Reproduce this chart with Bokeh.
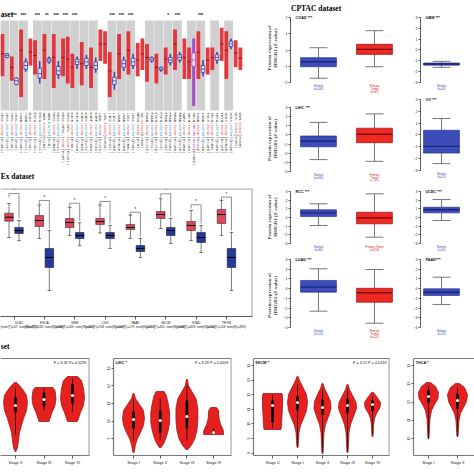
import math
from bokeh.plotting import figure
from bokeh.models import Range1d, FixedTicker, Span
from bokeh.layouts import row, column
from bokeh.embed import file_html
from bokeh.resources import INLINE
from bokeh.core.properties import value

SERIF = "Liberation Serif"
SANS = "Liberation Sans"
MONO = "Liberation Mono"

# ---------------- TIMER data ----------------
timer_names = ["CESC", "CESC", "CHOL", "CHOL", "COAD", "COAD", "DLBC", "ESCA", "ESCA", "GBM", "GBM",
               "HNSC", "HNSC", "HNSC-HPV+", "HNSC-HPV-", "KICH", "KICH", "KIRC", "KIRC", "KIRP", "KIRP",
               "LAML", "LGG", "LIHC", "LIHC", "LUAD", "LUAD", "LUSC", "LUSC", "MESO", "OV", "PAAD", "PAAD",
               "PCPG", "PCPG", "PRAD", "PRAD", "READ", "READ", "SARC", "SKCM", "SKCM", "STAD", "STAD",
               "TGCT", "THCA", "THCA", "THYM", "UCEC", "UCEC", "UCS", "UVM"]
timer_types = ["Tumor", "Normal", "Tumor", "Normal", "Tumor", "Normal", "Tumor", "Tumor", "Normal", "Tumor", "Normal",
               "Tumor", "Normal", "Tumor", "Tumor", "Tumor", "Normal", "Tumor", "Normal", "Tumor", "Normal",
               "Tumor", "Tumor", "Tumor", "Normal", "Tumor", "Normal", "Tumor", "Normal", "Tumor", "Tumor", "Tumor", "Normal",
               "Tumor", "Normal", "Tumor", "Normal", "Tumor", "Normal", "Tumor", "Tumor", "Metastasis", "Tumor", "Normal",
               "Tumor", "Tumor", "Normal", "Tumor", "Tumor", "Normal", "Tumor", "Tumor"]
timer_n = [304, 3, 36, 9, 457, 41, 48, 184, 11, 153, 5, 520, 44, 97, 421, 66, 25, 533, 72, 290, 32,
           173, 516, 371, 50, 515, 59, 501, 51, 87, 303, 178, 4, 179, 3, 497, 52, 166, 10, 259, 103, 368,
           415, 35, 150, 501, 59, 120, 545, 35, 57, 80]
timer_med = [6.3, 6.1, 4.8, 3.3, 6.7, 5.0, 6.5, 6.1, 4.1, 6.7, 5.6, 5.9, 4.4, 5.9, 5.7, 4.8, 5.4, 5.2, 5.4, 4.8, 5.0,
             7.4, 7.4, 4.4, 3.3, 6.3, 5.2, 6.7, 5.4, 5.6, 6.3, 5.9, 5.7, 4.8, 4.6, 5.7, 5.6, 7.4, 5.9, 5.9, 5.4, 5.6,
             6.5, 4.6, 5.6, 5.9, 5.9, 7.4, 6.7, 7.4, 6.4, 5.8]
timer_q1 = [5.7, 5.9, 4.2, 2.9, 6.0, 4.6, 5.9, 5.5, 3.6, 6.1, 5.4, 5.3, 4.0, 5.3, 5.1, 4.2, 5.1, 4.6, 5.0, 4.2, 4.6,
            6.8, 6.8, 3.7, 2.9, 5.7, 4.8, 6.1, 5.0, 5.0, 5.7, 5.3, 5.5, 4.2, 4.5, 5.2, 5.3, 6.8, 5.6, 5.3, 4.8, 4.9,
            5.9, 4.2, 5.0, 5.4, 5.6, 6.8, 6.1, 7.1, 5.8, 5.2]
timer_q3 = [6.9, 6.3, 5.4, 3.6, 7.3, 5.4, 7.1, 6.7, 4.7, 7.3, 5.8, 6.5, 4.9, 6.5, 6.3, 5.4, 5.7, 5.8, 5.8, 5.4, 5.4,
            8.0, 8.0, 5.1, 3.7, 6.9, 5.6, 7.3, 5.8, 6.2, 6.9, 6.5, 5.9, 5.4, 4.8, 6.2, 5.9, 8.0, 6.2, 6.5, 6.0, 6.4,
            7.1, 5.0, 6.2, 6.4, 6.2, 8.0, 7.3, 7.7, 7.0, 6.4]
timer_lo = [3.8, 5.8, 3.3, 2.8, 1.5, 4.3, 5.0, 4.0, 3.0, 3.5, 5.2, 2.5, 3.5, 3.8, 3.0, 2.5, 4.6, 2.8, 4.6, 2.5, 4.2,
            5.5, 5.2, 1.5, 2.3, 3.5, 4.4, 4.0, 4.6, 3.8, 4.5, 3.2, 5.3, 3.0, 4.3, 4.0, 5.0, 4.5, 5.3, 3.5, 3.5, 0.5,
            3.5, 3.8, 4.0, 4.5, 5.2, 5.5, 3.5, 6.8, 4.8, 4.5]
timer_hi = [8.5, 6.4, 6.0, 3.7, 9.0, 5.8, 8.0, 7.8, 5.5, 8.5, 6.0, 8.5, 5.5, 8.0, 8.2, 6.3, 6.0, 7.6, 6.2, 7.0, 5.9,
            9.0, 8.8, 6.5, 4.3, 8.5, 6.0, 8.8, 6.3, 7.5, 8.0, 7.4, 6.0, 6.3, 4.9, 7.0, 6.3, 9.0, 6.5, 8.0, 7.0, 8.0,
            8.8, 5.6, 7.0, 7.0, 6.5, 9.2, 8.8, 8.0, 7.8, 7.0]
timer_sig_keys = ["CHOL", "COAD", "ESCA", "GBM", "HNSC", "HNSC-HPV", "KICH", "LIHC", "LUAD", "LUSC", "PRAD", "READ", "STAD"]
timer_sig_marks = ["***", "***", "***", "**", "***", "***", "***", "***", "***", "***", "*", "***", "***"]

# ---------------- GEPIA-style data ----------------
gepia_cancers = ["DLBC", "ESCA", "GBM", "LGG", "PAAD", "SKCM", "STAD", "THYM"]
gepia_nT = [47, 182, 163, 518, 179, 461, 408, 118]
gepia_nN = [337, 286, 207, 207, 171, 558, 211, 339]
gepia_t_med = [7.74, 7.48, 7.32, 7.40, 6.93, 7.95, 7.09, 7.95]
gepia_t_q1 = [7.43, 7.01, 6.93, 7.17, 6.77, 7.64, 6.69, 7.24]
gepia_t_q3 = [8.06, 7.87, 7.64, 7.64, 7.17, 8.19, 7.40, 8.35]
gepia_t_lo = [6.14, 6.06, 6.30, 6.50, 6.06, 6.85, 5.90, 6.30]
gepia_t_hi = [8.82, 8.70, 8.50, 8.70, 7.90, 9.20, 8.27, 9.06]
gepia_n_med = [6.69, 4.57, 6.30, 6.30, 5.28, 6.69, 6.14, 4.57]
gepia_n_q1 = [6.46, 3.78, 6.06, 6.06, 5.04, 6.30, 5.75, 3.78]
gepia_n_q3 = [6.93, 5.28, 6.54, 6.54, 5.51, 6.93, 6.54, 5.28]
gepia_n_lo = [5.90, 1.97, 5.50, 5.28, 4.57, 5.67, 4.96, 1.97]
gepia_n_hi = [7.48, 6.69, 7.30, 7.09, 6.06, 7.64, 7.09, 6.54]
gepia_bracket = [9.60, 9.06, 8.84, 8.98, 8.13, 9.58, 8.72, 9.32]

# ---------------- CPTAC data (med, q1, q3, lo, hi) ----------------
cptac_left_labels = ["COAD ***", "LIHC ***", "RCC ***", "LUAD ***"]
cptac_left_ticks = [[2, 1, 0, -1, -2], [3, 2, 1, 0, -1, -2, -3, -4], [3, 2, 1, 0, -1, -2, -3], [3, 2, 1, 0, -1, -2, -3, -4]]
cptac_left_normal = [(-0.72, -1.03, -0.47, -1.74, 0.14), (-0.67, -1.30, -0.11, -2.70, 1.37),
                     (0.54, 0.12, 0.89, -0.92, 1.58), (0.15, -0.37, 0.84, -2.32, 2.04)]
cptac_left_tumor = [(0.04, -0.27, 0.35, -1.03, 1.19), (0.07, -0.85, 0.74, -2.89, 2.30),
                    (-0.04, -0.73, 0.61, -2.27, 2.73), (-0.43, -1.40, 0.04, -3.56, 1.97)]
cptac_left_n = [(100, 97), (165, 165), (84, 110), (111, 111)]
cptac_left_tumor_text = ["Primary\nTumor\n(n=%d)", "Primary\nTumor\n(n=%d)", "Primary Tumor\n(n=%d)",
                         "Primary\nTumor\n(n=%d)"]
cptac_right_labels = ["GBM ***", "OV ***", "UCEC ***", "PAAD***"]
cptac_right_ticks = [[3, 2, 1, 0, -1, -2, -3], [3, 2, 1, 0, -1, -2, -3], [3, 2, 1, 0, -1, -2, -3], [3, 2, 1, 0, -1, -2, -3, -4]]
cptac_right_normal = [(-1.30, -1.40, -1.20, -1.60, -1.05), (-0.96, -1.53, 0.40, -2.42, 1.39),
                      (0.89, 0.54, 1.19, -0.35, 2.08), (-0.37, -0.71, -0.02, -1.63, 1.18)]
cptac_right_n = [10, 25, 31, 74]

# ---------------- violin data ----------------
v1_stages = ["Stage II", "Stage III", "Stage IV"]
v1_levels = [[12.2, 12.03, 11.74, 11.46, 11.06, 10.6, 10.14, 9.74, 9.34, 8.89, 8.49, 8.26],
             [11.91, 11.74, 11.29, 10.89, 10.49, 10.14, 9.97],
             [12.54, 12.31, 11.86, 11.34, 10.89, 10.49, 10.14, 9.97]]
v1_dens = [[0.08, 0.33, 0.67, 0.92, 1.0, 0.92, 0.67, 0.5, 0.33, 0.25, 0.17, 0.04],
           [0.75, 0.92, 1.0, 0.92, 0.67, 0.5, 0.42],
           [0.42, 0.75, 0.92, 1.0, 0.92, 0.67, 0.5, 0.42]]
v1_med = [10.89, 11.23, 11.46]
v1_q1 = [10.49, 10.83, 11.0]
v1_q3 = [11.34, 11.63, 12.09]
v1_lo = [9.2, 10.6, 10.49]
v1_hi = [11.9, 11.86, 12.43]

v2_stages = ["Stage I", "Stage II", "Stage III", "Stage IV"]
v2_levels = [[11.57, 11.29, 10.94, 10.6, 10.14, 9.74, 9.34, 9.0, 8.66, 8.2],
             [11.69, 11.46, 11.0, 10.49, 9.91, 9.46, 9.06, 8.77, 8.49],
             [12.37, 12.03, 11.69, 11.29, 10.71, 10.03, 9.46, 9.0, 8.66, 8.37],
             [10.77, 10.6, 10.14, 9.8, 9.57, 9.4, 9.23]]
v2_dens = [[0.05, 0.18, 0.55, 0.91, 1.0, 0.91, 0.64, 0.36, 0.18, 0.05],
           [0.36, 0.55, 0.73, 0.86, 0.86, 0.73, 0.55, 0.36, 0.09],
           [0.05, 0.14, 0.45, 0.82, 1.0, 1.0, 0.91, 0.73, 0.45, 0.09],
           [0.27, 0.45, 0.5, 0.64, 0.82, 0.91, 0.91]]
v2_med = [10.09, 10.03, 10.26, 9.34]
v2_q1 = [9.57, 9.34, 9.57, 9.3]
v2_q3 = [10.54, 10.6, 11.17, 9.45]
v2_lo = [8.89, 8.89, 8.89, 9.25]
v2_hi = [11.29, 11.29, 12.03, 9.6]

v3_stages = ["Stage 0", "Stage I", "Stage II", "Stage III", "Stage IV"]
v3_levels = [[12.08, 11.88, 11.26, 10.58, 9.89, 9.62],
             [13.25, 12.97, 12.56, 12.01, 11.47, 10.92, 10.37, 9.89, 9.41, 8.86, 8.38],
             [12.77, 12.42, 12.01, 11.53, 11.05, 10.51, 9.96, 9.41, 8.73, 7.97],
             [12.7, 12.36, 11.95, 11.47, 11.05, 10.51, 9.96, 9.41, 8.73, 8.04],
             [12.15, 11.88, 11.47, 11.12, 10.71, 10.37, 9.89, 9.14]]
v3_dens = [[0.95, 1.0, 1.0, 0.95, 0.9, 0.85],
           [0.05, 0.2, 0.5, 0.9, 1.0, 0.9, 0.6, 0.3, 0.15, 0.1, 0.05],
           [0.05, 0.2, 0.5, 0.8, 0.85, 0.6, 0.3, 0.15, 0.1, 0.05],
           [0.05, 0.2, 0.5, 0.85, 0.9, 0.6, 0.3, 0.15, 0.1, 0.05],
           [0.1, 0.4, 0.8, 0.75, 0.4, 0.2, 0.1, 0.05]]
v3_med = [11.26, 11.47, 11.12, 11.26, 11.33]
v3_q1 = [10.1, 10.92, 10.64, 10.71, 10.92]
v3_q3 = [11.6, 11.88, 11.67, 11.74, 11.6]
v3_lo = [9.7, 8.5, 8.1, 8.1, 9.3]
v3_hi = [12.0, 12.7, 12.4, 12.4, 11.9]

v4_stages = ["Stage I", "Stage II"]
v4_levels = [[13.07, 12.85, 12.52, 12.19, 11.86, 11.53, 11.1, 10.55, 10.0],
             [13.01, 12.79, 12.41, 12.03, 11.7, 11.37, 10.99, 10.55, 10.11]]
v4_dens = [[0.2, 0.7, 1.0, 0.95, 0.6, 0.3, 0.15, 0.1, 0.05],
           [0.2, 0.7, 1.0, 0.9, 0.6, 0.3, 0.15, 0.1, 0.05]]
v4_med = [12.3, 12.08]
v4_q1 = [11.97, 11.64]
v4_q3 = [12.63, 12.47]
v4_lo = [10.0, 10.11]
v4_hi = [12.9, 12.79]


def base_fig(w, h, xr, yr, left=0, right=0, top=0, bottom=0, xaxis=None, yaxis=None):
    p = figure(width=w, height=h, x_range=Range1d(*xr), y_range=Range1d(*yr),
               output_backend="svg", toolbar_location=None,
               x_axis_location=xaxis, y_axis_location=yaxis,
               min_border_left=left, min_border_right=right,
               min_border_top=top, min_border_bottom=bottom)
    p.grid.visible = False
    p.outline_line_color = None
    p.background_fill_color = "white"
    p.border_fill_color = "white"
    return p


def style_axis(ax, size="3.5px"):
    ax.major_label_text_font = SANS
    ax.major_label_text_font_size = size
    ax.major_label_text_color = "#222222"
    ax.major_tick_out = 2
    ax.major_tick_in = 0
    ax.minor_tick_out = 0
    ax.minor_tick_in = 0
    ax.major_label_standoff = 1
    ax.axis_line_color = "#333333"
    ax.axis_line_width = 0.8
    ax.major_tick_line_color = "#333333"
    ax.major_tick_line_width = 0.8


# ================= TIMER panel (also carries the "Ex dataset" heading) =================
TS = 4.85
t_x0 = -2 / TS
timer = base_fig(262, 180, (t_x0, t_x0 + 262 / TS), ((110 - 180) / 9, 110 / 9))
N = len(timer_names)
xs = list(range(N))

groups = []
for i, nm in enumerate(timer_names):
    key = nm.split("-")[0]
    if groups and groups[-1][0] == key:
        groups[-1][2] = i
    else:
        groups.append([key, i, i])
gl, gr = [], []
for key, a, b in groups:
    if any(timer_types[k] != "Tumor" for k in range(a, b + 1)):
        gl.append(a - 0.45)
        gr.append(b + 0.45)
timer.quad(left=gl, right=gr, bottom=0, top=10, fill_color="#d0d0d0", line_color=None)

dot_col = {"Tumor": "#e3242b", "Normal": "#2c36a6", "Metastasis": "#9b3fc8"}
cols = [dot_col[t] for t in timer_types]
lw = [3.8 if t == "Tumor" else (3.0 if t == "Metastasis" else 1.6) for t in timer_types]
timer.segment(x0=xs, y0=timer_lo, x1=xs, y1=timer_hi, line_color=cols, line_width=lw, line_alpha=0.9)
nb = [i for i in xs if timer_types[i] != "Tumor"]
timer.quad(left=[i - 0.38 for i in nb], right=[i + 0.38 for i in nb],
           bottom=[timer_q1[i] for i in nb], top=[timer_q3[i] for i in nb],
           fill_color="white", fill_alpha=0.85, line_color=[cols[i] for i in nb], line_width=0.8)
timer.segment(x0=[i - 0.38 for i in xs], x1=[i + 0.38 for i in xs], y0=timer_med, y1=timer_med,
              line_color=["#7a0c10" if t == "Tumor" else dot_col[t] for t in timer_types], line_width=0.8)

sx = []
for key in timer_sig_keys:
    idx = [i for i, nm in enumerate(timer_names) if nm.rstrip("+-") == key]
    sx.append(sum(idx) / len(idx))
timer.text(x=sx, y=[(110 - 15) / 9] * len(sx), text=timer_sig_marks, text_font=value(SANS),
           text_font_size="4.5px", text_font_style="bold", text_align="center", text_baseline="middle",
           text_color="#111111")

lab_col = {"Tumor": "#e8474c", "Normal": "#2aa6d8", "Metastasis": "#9b30d0"}
cw = 4 * 0.6 / 9
y0 = (110 - 112) / 9
a_txt = [nm + "." for nm in timer_names]
c_txt = [" (n=%d)" % k for k in timer_n]
yB = [y0 - len(a) * cw for a in a_txt]
yC = [yB[i] - len(timer_types[i]) * cw for i in xs]
common = dict(angle=-math.pi / 2, text_font=value(MONO), text_font_size="4px",
              text_align="left", text_baseline="middle")
timer.text(x=xs, y=[y0] * N, text=a_txt, text_color="#333333", **common)
timer.text(x=xs, y=yB, text=timer_types, text_color=[lab_col[t] for t in timer_types], **common)
timer.text(x=xs, y=yC, text=c_txt, text_color="#333333", **common)
timer.text(x=[t_x0 + 0.03, t_x0 + 0.03], y=[(110 - 14) / 9, (110 - 176) / 9], text=["aset", "Ex dataset"],
           text_font=value(SERIF), text_font_size="7.5px", text_font_style="bold", text_baseline="middle",
           text_color="black")

# ================= GEPIA-style panel =================
G = 30.35
g_x0 = (0 - 13.5) / G
gepia = base_fig(262, 158, (g_x0, g_x0 + 252 / G), (-0.08, 10.0), left=0, right=10, top=8, bottom=22,
                 xaxis="below")
gx = list(range(len(gepia_cancers)))
xt = [g - 0.165 for g in gx]
xn = [g + 0.165 for g in gx]
hw = 0.14
for xx, lo, hi in ((xt, gepia_t_lo, gepia_t_hi), (xn, gepia_n_lo, gepia_n_hi)):
    gepia.segment(x0=xx, x1=xx, y0=lo, y1=hi, line_color="#222222", line_width=0.6)
    gepia.segment(x0=[x - 0.06 for x in xx], x1=[x + 0.06 for x in xx], y0=lo, y1=lo, line_color="#222222", line_width=0.6)
    gepia.segment(x0=[x - 0.06 for x in xx], x1=[x + 0.06 for x in xx], y0=hi, y1=hi, line_color="#222222", line_width=0.6)
gepia.quad(left=[x - hw for x in xt], right=[x + hw for x in xt], bottom=gepia_t_q1, top=gepia_t_q3,
           fill_color="#e0455c", line_color="#333333", line_width=0.6)
gepia.quad(left=[x - hw for x in xn], right=[x + hw for x in xn], bottom=gepia_n_q1, top=gepia_n_q3,
           fill_color="#24399a", line_color="#222222", line_width=0.6)
gepia.segment(x0=[x - hw for x in xt + xn], x1=[x + hw for x in xt + xn], y0=gepia_t_med + gepia_n_med,
              y1=gepia_t_med + gepia_n_med, line_color="black", line_width=1.0)
bx, by = [], []
for i in gx:
    b = gepia_bracket[i]
    bx.append([xt[i], xt[i], xn[i], xn[i]])
    by.append([b - 0.3, b, b, gepia_n_hi[i] + 0.15])
gepia.multi_line(xs=bx, ys=by, line_color="#444444", line_width=0.6)
gepia.text(x=gx, y=[b + 0.05 for b in gepia_bracket], text=["*"] * len(gx), text_font=value(SANS),
           text_font_size="4.5px", text_align="center", text_baseline="bottom", text_color="#222222")
ax = gepia.xaxis[0]
style_axis(ax, "3.2px")
ax.ticker = FixedTicker(ticks=gx)
ax.major_label_overrides = {i: "%s\n(num(T)=%d; num(N)=%d)" % (gepia_cancers[i], gepia_nT[i], gepia_nN[i]) for i in gx}
ax.major_tick_out = 3
gepia.add_layout(Span(location=9.97, dimension="width", line_color="#999999", line_width=1.3))
gepia.add_layout(Span(location=g_x0 + 252 / G - 0.01, dimension="height", line_color="#666666", line_width=1.0))

# ================= CPTAC panels =================
row_y = [(0, 95), (95, 181), (181, 252), (252, 338)]
left_top = [17, 107, 191, 259]
left_s = [16.25, 9.14, 8.67, 9.71]
right_top = [17, 99, 191, 259]
right_s = [10.83, 11.83, 8.67, 9.71]
BLUE_F, BLUE_D = "#3d4db7", "#1a237e"
RED_F, RED_D = "#ee2a24", "#7f0000"
U = 56.0


def draw_box(p, x, st, fill, dark, hw=0.32):
    med, q1, q3, lo, hi = st
    p.segment(x0=[x, x], x1=[x, x], y0=[lo, q3], y1=[q1, hi], line_color="#555555", line_width=0.8)
    p.segment(x0=[x - hw * 0.5] * 2, x1=[x + hw * 0.5] * 2, y0=[lo, hi], y1=[lo, hi],
              line_color="#555555", line_width=0.8)
    p.quad(left=[x - hw], right=[x + hw], bottom=[q1], top=[q3], fill_color=fill, line_color=dark, line_width=0.6)
    p.segment(x0=[x - hw], x1=[x + hw], y0=[med], y1=[med], line_color=dark, line_width=1.4)


def cptac_fig(w, axis_w, xr, yt, s, Y0, Y1, ticks, label):
    vt = max(ticks)
    yr = (vt - (Y1 - yt) / s, vt + (yt - Y0) / s)
    p = base_fig(w, Y1 - Y0, xr, yr, left=axis_w, yaxis="left")
    a = p.yaxis[0]
    style_axis(a, "3.5px")
    a.ticker = FixedTicker(ticks=ticks)
    a.bounds = (min(ticks), max(ticks))
    p.text(x=[xr[0] + 5 / U], y=[vt], text=[label], text_font=value(SANS), text_font_size="3.8px",
           text_font_style="bold", text_baseline="middle", text_color="#111111")
    return p, yr


rows = []
for k in range(4):
    Y0, Y1 = row_y[k]
    lx = (0.5, 0.5 + 110 / U)
    pl, yrl = cptac_fig(138, 28, lx, left_top[k], left_s[k], Y0, Y1, cptac_left_ticks[k], cptac_left_labels[k])
    draw_box(pl, 1, cptac_left_normal[k], BLUE_F, BLUE_D)
    draw_box(pl, 2, cptac_left_tumor[k], RED_F, RED_D)
    ylab = min(cptac_left_ticks[k]) - 1.2 / left_s[k]
    pl.text(x=[1, 2], y=[ylab, ylab],
            text=["Normal\n(n=%d)" % cptac_left_n[k][0], cptac_left_tumor_text[k] % cptac_left_n[k][1]],
            text_color=["#3b3fb0", "#d42020"], text_font=value(SANS), text_font_size="2.8px",
            text_align="center", text_baseline="top", text_line_height=0.95)
    pl.yaxis.axis_label = "Protein expression of\nHMGB1 (Z-value)"
    pl.yaxis.axis_label_text_font = SERIF
    pl.yaxis.axis_label_text_font_size = "5px"
    pl.yaxis.axis_label_text_font_style = "bold"
    pl.yaxis.axis_label_standoff = 3
    if k == 0:
        pl.text(x=[lx[0] + 0.01], y=[max(cptac_left_ticks[0]) + (17 - 8) / left_s[0]], text=["CPTAC dataset"],
                text_font=value(SERIF), text_font_size="7.5px", text_font_style="bold", text_baseline="middle",
                text_color="black")
    rx = (0.625, 0.625 + 54 / U)
    pr, yrr = cptac_fig(74, 20, rx, right_top[k], right_s[k], Y0, Y1, cptac_right_ticks[k], cptac_right_labels[k])
    draw_box(pr, 1, cptac_right_normal[k], BLUE_F, BLUE_D)
    ylr = min(cptac_right_ticks[k]) - 1.2 / right_s[k]
    pr.text(x=[1], y=[ylr], text=["Normal\n(n=%d)" % cptac_right_n[k]], text_color=["#3b3fb0"],
            text_font=value(SANS), text_font_size="2.8px", text_align="center", text_baseline="top",
            text_line_height=0.95)
    rows.append(row(pl, pr))

# ================= violin panels =================
BORDER = "#7a7a7a"
FRAME_PX = 97   # visible panel box height
HEAD_PX = 20    # space above the box, kept inside each plot frame


def violin_fig(w, left, right, xr, yr, stages, levels, dens, med, q1, q3, lo, hi, maxw,
               ticks=None, label=None, fp=None, title=None, frame="full"):
    frame_top = yr[1]
    ppu = FRAME_PX / (yr[1] - yr[0])
    yr = (yr[0], yr[1] + HEAD_PX / ppu)
    p = base_fig(w, 136, xr, yr, left=left, right=right, top=0, bottom=19, xaxis="below",
                 yaxis="left" if ticks else None)
    n = len(stages)
    pxs, pys = [], []
    for k in range(n):
        c = k + 1
        L, D = levels[k], dens[k]
        pxs.append([c + maxw * d for d in D] + [c - maxw * d for d in reversed(D)])
        pys.append(list(L) + list(reversed(L)))
    p.patches(pxs, pys, fill_color="#e5201f", line_color="#a31515", line_width=0.8)
    cx = [k + 1 for k in range(n)]
    p.segment(x0=cx, x1=cx, y0=lo, y1=hi, line_color="#111111", line_width=0.8)
    p.segment(x0=cx, x1=cx, y0=q1, y1=q3, line_color="black", line_width=2.6)
    p.scatter(x=cx, y=med, size=3, fill_color="white", line_color=None)
    xa = p.xaxis[0]
    style_axis(xa, "4px")
    xa.ticker = FixedTicker(ticks=cx)
    xa.major_label_overrides = {k + 1: stages[k] for k in range(n)}
    xa.major_tick_out = 3
    xa.major_label_standoff = 1
    xa.axis_line_color = BORDER
    xa.axis_line_width = 1.2
    if ticks:
        ya = p.yaxis[0]
        style_axis(ya, "3.5px")
        ya.ticker = FixedTicker(ticks=ticks)
        ya.major_label_orientation = "vertical"
        ya.axis_line_color = BORDER
        ya.axis_line_width = 1.2
        ya.bounds = (yr[0], frame_top)
    # top edge and (optionally) right edge of the panel box
    bx0, by0, bx1, by1 = [xr[0]], [frame_top], [xr[1]], [frame_top]
    if frame == "full":
        bx0.append(xr[1] - 0.01)
        by0.append(frame_top)
        bx1.append(xr[1] - 0.01)
        by1.append(yr[0])
    p.segment(x0=bx0, y0=by0, x1=bx1, y1=by1, line_color=BORDER, line_width=1.2)
    if title:
        p.text(x=[xr[0] + 0.01], y=[frame_top + 12 / ppu], text=[title], text_font=value(SERIF),
               text_font_size="7.5px", text_font_style="bold", text_baseline="middle", text_color="black")
    if label:
        p.text(x=[xr[0] + 2 / 27], y=[frame_top - 2 / ppu], text=[label], text_font=value(SANS),
               text_font_size="3.8px", text_font_style="bold", text_baseline="top", text_color="#111111")
    if fp:
        p.text(x=[xr[1] - 2 / 27], y=[frame_top - 2 / ppu], text=[fp], text_font=value(SANS),
               text_font_size="3.8px", text_align="right", text_baseline="top", text_color="#111111")
    return p


v1 = violin_fig(100, 0, 11, (1 - 15 / 28.5, 1 - 15 / 28.5 + 89 / 28.5), (8.029, 13.571), v1_stages, v1_levels,
                v1_dens, v1_med, v1_q1, v1_q3, v1_lo, v1_hi, 0.42, fp="F = 3.35  P= 0.0239", title="set")
v2 = violin_fig(140, 13, 9, (0.251, 4.670), (8.029, 13.571), v2_stages, v2_levels, v2_dens,
                v2_med, v2_q1, v2_q3, v2_lo, v2_hi, 0.41, ticks=[13, 12, 11, 10, 9], label="LIHC *",
                fp="F = 3.29  P = 0.0209")
v3 = violin_fig(158, 13, 9, (0.24, 5.68), (7.836, 14.479), v3_stages, v3_levels, v3_dens,
                v3_med, v3_q1, v3_q3, v3_lo, v3_hi, 0.40, ticks=[14, 13, 12, 11, 10, 9, 8], label="SKCM *",
                fp="F = 3.15  P = 0.0133")
v4 = violin_fig(76, 15, 0, (0.483, 0.483 + 61 / 29), (9.068, 14.384), v4_stages, v4_levels, v4_dens,
                v4_med, v4_q1, v4_q3, v4_lo, v4_hi, 0.345, ticks=[14, 13, 12, 11, 10], label="THCA *",
                frame="noright")

layout = column(row(column(timer, gepia), column(*rows)), row(v1, v2, v3, v4))

with open("out.html", "w") as f:
    f.write(file_html(layout, INLINE))
